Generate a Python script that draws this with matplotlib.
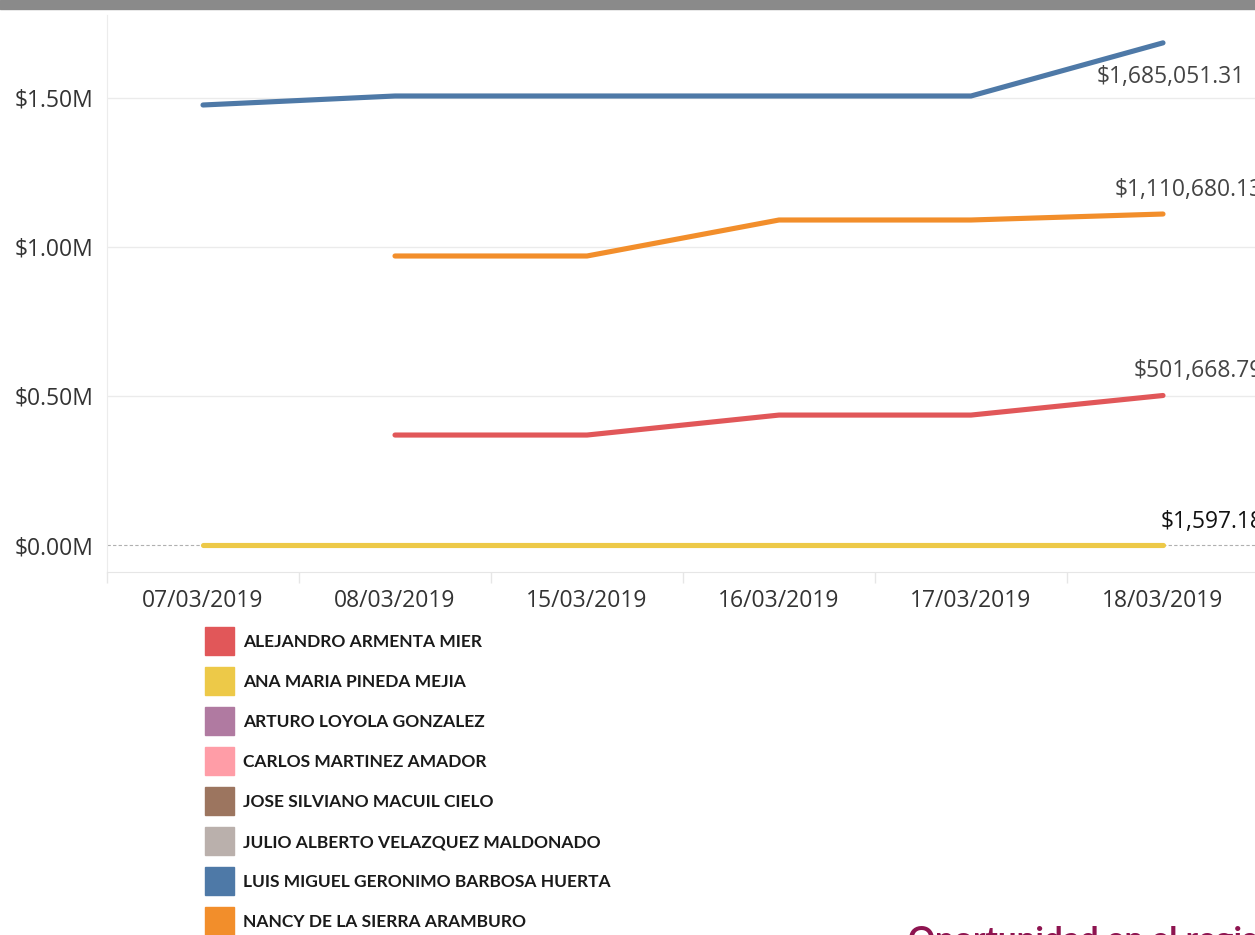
import matplotlib.pyplot as plt
from matplotlib.patches import Rectangle
from matplotlib.ticker import FuncFormatter

plt.rcParams['font.family'] = ['Open Sans', 'DejaVu Sans']

# fechas del eje x
dates = ['07/03/2019', '08/03/2019', '15/03/2019', '16/03/2019', '17/03/2019', '18/03/2019']

# series (monto acumulado); None = sin dato
barbosa = [1476500, 1506700, 1506700, 1506700, 1506700, 1685051.31]
de_la_sierra = [None, 969800, 969800, 1090600, 1090600, 1110680.13]
armenta = [None, 369000, 369000, 436000, 436000, 501668.79]
pineda = [1597.18, 1597.18, 1597.18, 1597.18, 1597.18, 1597.18]

legend_names = [
    'ALEJANDRO ARMENTA MIER',
    'ANA MARIA PINEDA MEJIA',
    'ARTURO LOYOLA GONZALEZ',
    'CARLOS MARTINEZ AMADOR',
    'JOSE SILVIANO MACUIL CIELO',
    'JULIO ALBERTO VELAZQUEZ MALDONADO',
    'LUIS MIGUEL GERONIMO BARBOSA HUERTA',
    'NANCY DE LA SIERRA ARAMBURO',
]
legend_colors = ['#E15759', '#EDC948', '#B07AA1', '#FF9DA7',
                 '#9C755F', '#BAB0AC', '#4E79A7', '#F28E2B']

W, H = 1255, 935
fig = plt.figure(figsize=(W / 100, H / 100), dpi=100)
ax = fig.add_axes([107 / W, (H - 572) / H, 1152 / W, 557 / H])

# barra gris superior
fig.add_artist(Rectangle((0, 1 - 9 / H), 1, 9 / H, transform=fig.transFigure,
                         color='#8a8a8a', zorder=10))

x = list(range(len(dates)))


def draw(vals, color):
    xs = [i for i, v in zip(x, vals) if v is not None]
    ys = [v for v in vals if v is not None]
    ax.plot(xs, ys, color=color, lw=3.7, solid_capstyle='round',
            solid_joinstyle='round', zorder=3)


# líneas de referencia
for v in [500000, 1000000, 1500000]:
    ax.axhline(v, color='#ebebeb', lw=1, zorder=1)
ax.axhline(0, color='#b0b0b0', lw=0.8, ls=(0, (3, 2)), zorder=1)

draw(pineda, '#EDC948')
draw(armenta, '#E15759')
draw(de_la_sierra, '#F28E2B')
draw(barbosa, '#4E79A7')

# etiquetas de fin de línea
fs = 16.5
lab_kw = dict(textcoords='offset pixels', ha='right', va='center',
              fontsize=fs, color='#444444', annotation_clip=False)
ax.annotate('${:,.2f}'.format(barbosa[-1]), (5, barbosa[-1]), xytext=(82, -34), **lab_kw)
ax.annotate('${:,.2f}'.format(de_la_sierra[-1]), (5, de_la_sierra[-1]), xytext=(100, 24), **lab_kw)
ax.annotate('${:,.2f}'.format(armenta[-1]), (5, armenta[-1]), xytext=(100, 25), **lab_kw)
ax.annotate('${:,.2f}'.format(pineda[-1]), (5, pineda[-1]), xytext=(100, 23),
            textcoords='offset pixels', ha='right', va='center', fontsize=fs,
            color='#111111', annotation_clip=False)

ax.set_xlim(-0.5, 5.5)
ax.set_ylim(-90600, 1778500)
ax.set_xticks(x)
ax.set_xticklabels(dates)
ax.set_xticks([i - 0.5 for i in range(len(dates) + 1)], minor=True)
ax.tick_params(axis='x', which='major', length=0, pad=12, labelsize=fs, labelcolor='#333333')
ax.tick_params(axis='x', which='minor', length=8, color='#e6e6e6', width=1)

ax.set_yticks([0, 500000, 1000000, 1500000])
ax.yaxis.set_major_formatter(FuncFormatter(lambda v, p: '${:.2f}M'.format(v / 1e6)))
ax.tick_params(axis='y', length=0, pad=10, labelsize=fs, labelcolor='#333333')

for s in ['top', 'right']:
    ax.spines[s].set_visible(False)
ax.spines['left'].set_color('#ececec')
ax.spines['bottom'].set_color('#e6e6e6')
ax.spines['left'].set_bounds(-90600, 1778500)

# leyenda de colores
for i, (name, col) in enumerate(zip(legend_names, legend_colors)):
    top = 627 + 40 * i
    fig.add_artist(Rectangle((205 / W, 1 - (top + 28) / H), 29 / W, 28 / H,
                             transform=fig.transFigure, color=col))
    fig.text(243 / W, 1 - (top + 15) / H, name, fontsize=12.5, fontweight='bold',
             family=['Lato', 'DejaVu Sans'], color='#1a1a1a', va='center', ha='left')

fig.text(908 / W, 1 - 950 / H, 'Oportunidad en el registro', fontsize=24,
         fontweight='bold', family=['Lato', 'DejaVu Sans'], color='#8E1450',
         va='baseline', ha='left')

fig.savefig('out.png', dpi=100)
